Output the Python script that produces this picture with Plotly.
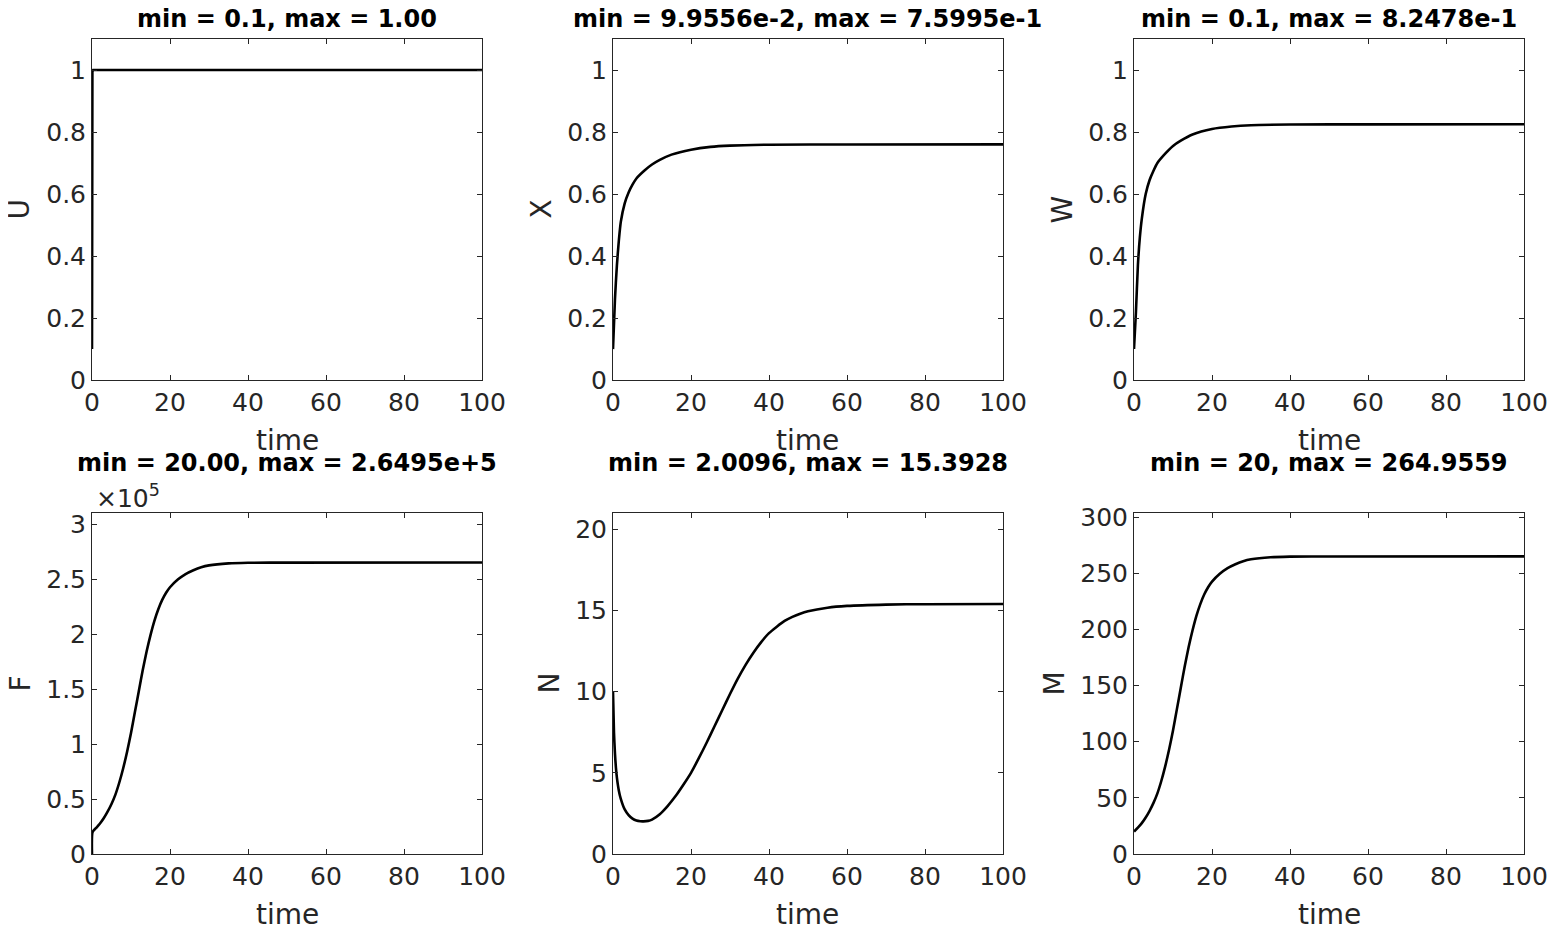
import plotly.graph_objects as go

# time grids and readings taken off the reference curves
t_u = [0, 0.03, 0.06, 0.1, 0.3, 1, 100]
u = [0.1, 0.45, 0.85, 0.995, 1.0, 1.0, 1.0]

t_xw = [0, 0.5, 1, 1.5, 2, 3, 4, 5, 6, 8, 10, 12, 15, 20, 25, 30, 40, 60, 100]
x_vals = [0.0996, 0.26, 0.37, 0.45, 0.51, 0.57, 0.605, 0.63, 0.65, 0.675, 0.695,
          0.71, 0.727, 0.743, 0.752, 0.756, 0.759, 0.7599, 0.75995]
w_vals = [0.1, 0.22, 0.37, 0.46, 0.52, 0.6, 0.645, 0.675, 0.7, 0.73, 0.755,
          0.772, 0.792, 0.81, 0.818, 0.822, 0.824, 0.8247, 0.82478]

t_fm = [0, 0.15, 1, 2, 3, 4, 5, 6, 7, 8, 9, 10, 11, 12, 13, 14, 15, 16, 17, 18,
        19, 20, 22, 24, 26, 28, 30, 35, 40, 50, 100]
f_vals = [20, 20000, 23500, 27500, 32500, 38500, 45500, 54000, 65000, 78000,
          93000, 110000, 129000, 148000, 167000, 184000, 199000, 212000, 222500,
          231000, 237500, 242500, 249500, 254500, 258000, 260700, 262400, 264200,
          264750, 264930, 264950]
m_vals = [20, 20.5, 23.5, 27.5, 32.5, 38.5, 45.5, 54, 65, 78, 93, 110, 129, 148,
          167, 184, 199, 212, 222.5, 231, 237.5, 242.5, 249.5, 254.5, 258, 260.7,
          262.4, 264.2, 264.75, 264.93, 264.9559]

t_n = [0, 0.25, 0.5, 0.75, 1, 1.5, 2, 3, 4, 5, 6, 7, 7.8, 9, 10, 12, 14, 16, 18,
       20, 22, 24, 26, 28, 30, 32, 34, 36, 38, 40, 42, 44, 46, 48, 50, 55, 60, 70,
       80, 100]
n_vals = [10, 7.5, 6.2, 5.3, 4.7, 3.9, 3.4, 2.75, 2.4, 2.18, 2.06, 2.015, 2.0096,
          2.04, 2.12, 2.45, 2.95, 3.55, 4.25, 5.0, 5.9, 6.85, 7.85, 8.85, 9.85,
          10.8, 11.65, 12.4, 13.05, 13.6, 14.0, 14.35, 14.6, 14.8, 14.95, 15.17,
          15.28, 15.36, 15.385, 15.3928]

titles = ["min = 0.1, max = 1.00", "min = 9.9556e-2, max = 7.5995e-1",
          "min = 0.1, max = 8.2478e-1", "min = 20.00, max = 2.6495e+5",
          "min = 2.0096, max = 15.3928", "min = 20, max = 264.9559"]
ylabels = ["U", "X", "W", "F", "N", "M"]
x_ticks = [0, 20, 40, 60, 80, 100]
frac_ticks = [0, 0.2, 0.4, 0.6, 0.8, 1]
frac_text = ["0", "0.2", "0.4", "0.6", "0.8", "1"]
f_ticks = [0, 50000, 100000, 150000, 200000, 250000, 300000]
f_text = ["0", "0.5", "1", "1.5", "2", "2.5", "3"]
n_ticks = [0, 5, 10, 15, 20]
m_ticks = [0, 50, 100, 150, 200, 250, 300]

# page has an 8px body margin, so the figure is drawn 16px smaller and
# every position below is given in window pixels, then shifted by PAD
PAD = 8
W, H = 1556 - 2 * PAD, 932 - 2 * PAD
col_px = [(92, 482), (613, 1003), (1134, 1524)]
row_px = [(39, 380), (513, 854)]
title_y = [19, 463]
ylab_px = [19, 541, 1062, 20, 549, 1054]


def px(v):
    return (v - PAD) / W


def py(v):
    return 1 - (v - PAD) / H


series = [(t_u, u), (t_xw, x_vals), (t_xw, w_vals),
          (t_fm, f_vals), (t_n, n_vals), (t_fm, m_vals)]
yranges = [[0, 1.1], [0, 1.1], [0, 1.1], [0, 310000], [0, 21], [0, 303.6]]
ytickvals = [frac_ticks, frac_ticks, frac_ticks, f_ticks, n_ticks, m_ticks]
yticktext = [frac_text, frac_text, frac_text, f_text,
             [str(v) for v in n_ticks], [str(v) for v in m_ticks]]

ink = "#262626"
fig = go.Figure()
annotations = []

for i in range(6):
    r, c = divmod(i, 3)
    x0, x1 = col_px[c]
    y0, y1 = row_px[r]
    sfx = "" if i == 0 else str(i + 1)
    tx, ty = series[i]
    shape = "linear" if i == 0 else "spline"
    fig.add_trace(go.Scatter(x=tx, y=ty, mode="lines",
                             line=dict(color="black", width=2.6, shape=shape, smoothing=0.6),
                             xaxis="x" + sfx, yaxis="y" + sfx, showlegend=False))
    axis_common = dict(showline=True, linecolor=ink, linewidth=1, mirror="ticks",
                       ticks="inside", ticklen=5, tickcolor=ink, showgrid=False,
                       zeroline=False, automargin=False,
                       tickfont=dict(family="DejaVu Sans", size=25, color=ink))
    fig.layout["xaxis" + sfx] = dict(domain=[px(x0), px(x1)], range=[0, 100],
                                     tickvals=x_ticks, anchor="y" + sfx, **axis_common)
    fig.layout["yaxis" + sfx] = dict(domain=[py(y1), py(y0)], range=yranges[i],
                                     tickvals=ytickvals[i], ticktext=yticktext[i],
                                     anchor="x" + sfx, **axis_common)
    cx = px((x0 + x1) / 2)
    annotations.append(dict(text="<b>" + titles[i] + "</b>", x=cx, y=py(title_y[r]),
                            xref="paper", yref="paper", showarrow=False,
                            xanchor="center", yanchor="middle",
                            font=dict(family="DejaVu Sans", size=24, color="black")))
    annotations.append(dict(text="time", x=cx, y=py(y1 + 60),
                            xref="paper", yref="paper", showarrow=False,
                            xanchor="center", yanchor="middle",
                            font=dict(family="DejaVu Sans", size=28, color=ink)))
    annotations.append(dict(text=ylabels[i], x=px(ylab_px[i]), y=py((y0 + y1) / 2),
                            xref="paper", yref="paper", showarrow=False, textangle=-90,
                            xanchor="center", yanchor="middle",
                            font=dict(family="DejaVu Sans", size=28, color=ink)))

annotations.append(dict(text="\u00d710<sup>5</sup>", x=px(94), y=py(496),
                        xref="paper", yref="paper", showarrow=False,
                        xanchor="left", yanchor="middle",
                        font=dict(family="DejaVu Sans", size=25, color=ink)))

fig.update_layout(width=W, height=H, margin=dict(l=0, r=0, t=0, b=0, autoexpand=False),
                  template="none", plot_bgcolor="white", paper_bgcolor="white",
                  annotations=annotations)

fig.write_html("out.html")
